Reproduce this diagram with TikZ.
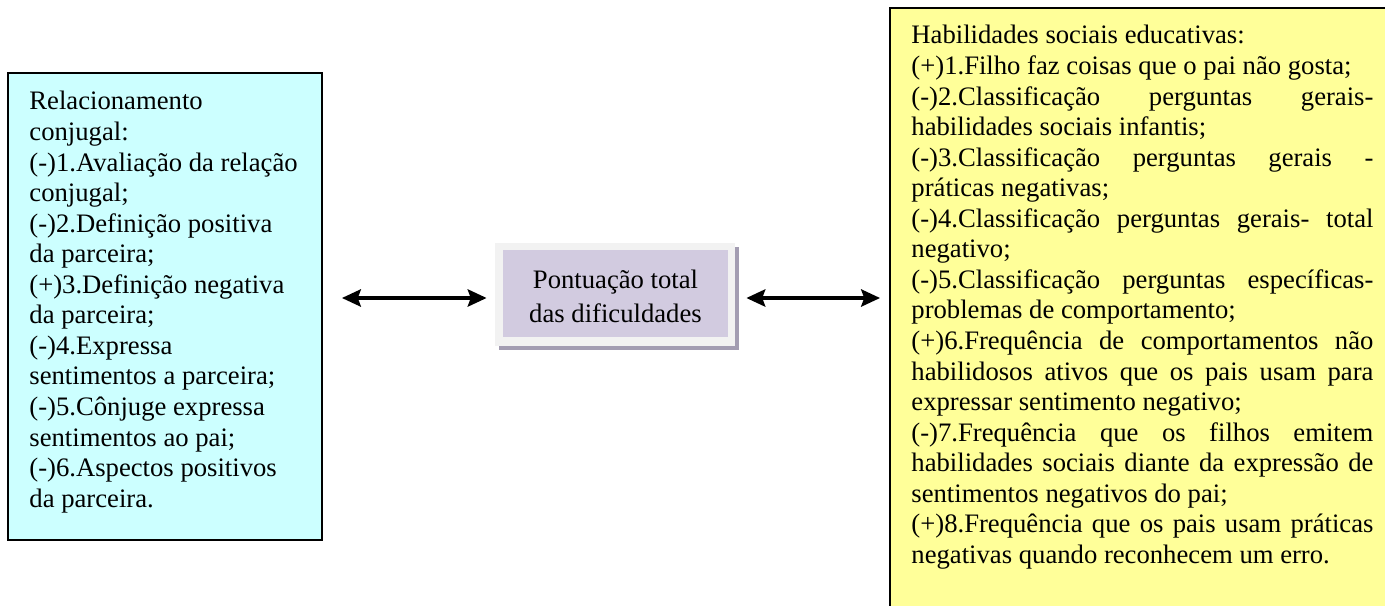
\documentclass[tikz,border=0pt]{standalone}
\usepackage{fontspec}
\setmainfont{Liberation Serif}
\usetikzlibrary{arrows.meta,calc}
\definecolor{conjfill}{HTML}{CCFFFF}
\definecolor{habfill}{HTML}{FFFF99}
\definecolor{midfill}{HTML}{D2CBE0}
\definecolor{midframe}{HTML}{F2F2F2}
\definecolor{midshadow}{HTML}{A39DB2}
\newlength\habw
\setlength\habw{207.9pt}
% a fully justified line of the right-hand list
\newcommand\jline[1]{\makebox[\habw][s]{#1}}

\begin{document}
\begin{tikzpicture}[x=0.45pt,y=-0.45pt,
  plainbox/.style={inner sep=0pt,outer sep=0pt,anchor=north west},
  txt/.style={inner sep=0pt,anchor=north west,align=left,font=\fontsize{12pt}{13.75pt}\selectfont},
  link/.style={{Stealth[length=8.5pt,width=7.8pt,inset=1.4pt]}-{Stealth[length=8.5pt,width=7.8pt,inset=1.4pt]},line width=1.4pt}]

\useasboundingbox (0,0) rectangle (1385,606);

% left panel: marital relationship
\node[plainbox,draw=black,line width=0.75pt,fill=conjfill,
      minimum width=141.3pt,minimum height=210.15pt] (conj) at (8,73) {};
\node[txt] (conjtxt) at (29,91)
  {Relacionamento\\conjugal:\\(-)1.Avaliação da relação\\conjugal;\\(-)2.Definição positiva\\da parceira;\\(+)3.Definição negativa\\da parceira;\\(-)4.Expressa\\sentimentos a parceira;\\(-)5.Cônjuge expressa\\sentimentos ao pai;\\(-)6.Aspectos positivos\\da parceira.};

% right panel: educational social skills
\node[plainbox,draw=black,line width=1.1pt,fill=habfill,
      minimum width=229.5pt,minimum height=275.4pt] (hab) at (890,8) {};
\node[txt] (habtxt) at (911,25)
  {Habilidades sociais educativas:\\
   (+)1.Filho faz coisas que o pai não gosta;\\
   \jline{(-)2.Classificação perguntas gerais-}\\
   habilidades sociais infantis;\\
   \jline{(-)3.Classificação perguntas gerais -}\\
   práticas negativas;\\
   \jline{(-)4.Classificação perguntas gerais- total}\\
   negativo;\\
   \jline{(-)5.Classificação perguntas específicas-}\\
   problemas de comportamento;\\
   \jline{(+)6.Frequência de comportamentos não}\\
   \jline{habilidosos ativos que os pais usam para}\\
   expressar sentimento negativo;\\
   \jline{(-)7.Frequência que os filhos emitem}\\
   \jline{habilidades sociais diante da expressão de}\\
   sentimentos negativos do pai;\\
   \jline{(+)8.Frequência que os pais usam práticas}\\
   negativas quando reconhecem um erro.};

% centre panel: total difficulty score, with its drop shadow and frame
\node[inner sep=0pt,fill=midshadow,minimum width=108pt,minimum height=46.35pt] (midshadow) at (619,298.5) {};
\node[inner sep=0pt,fill=midframe,minimum width=108pt,minimum height=46.35pt] (midframe) at (615,294.5) {};
\node[inner sep=0pt,fill=midfill,minimum width=101.25pt,minimum height=39.15pt] (mid) at (615.5,293.5) {};
\node[inner sep=0pt,anchor=north,align=center,font=\fontsize{12pt}{14.9pt}\selectfont] (midtxt) at (615.5,270)
  {Pontuação total\\das dificuldades};

% two-way links
\draw[link] ($(conj.east |- midframe.west)+(20,3.5)$) -- ($(midframe.west)+(-8,3.5)$);
\draw[link] ($(midframe.east)+(11,3.5)$) -- ($(hab.west |- midframe.west)+(-10,3.5)$);
\end{tikzpicture}
\end{document}
